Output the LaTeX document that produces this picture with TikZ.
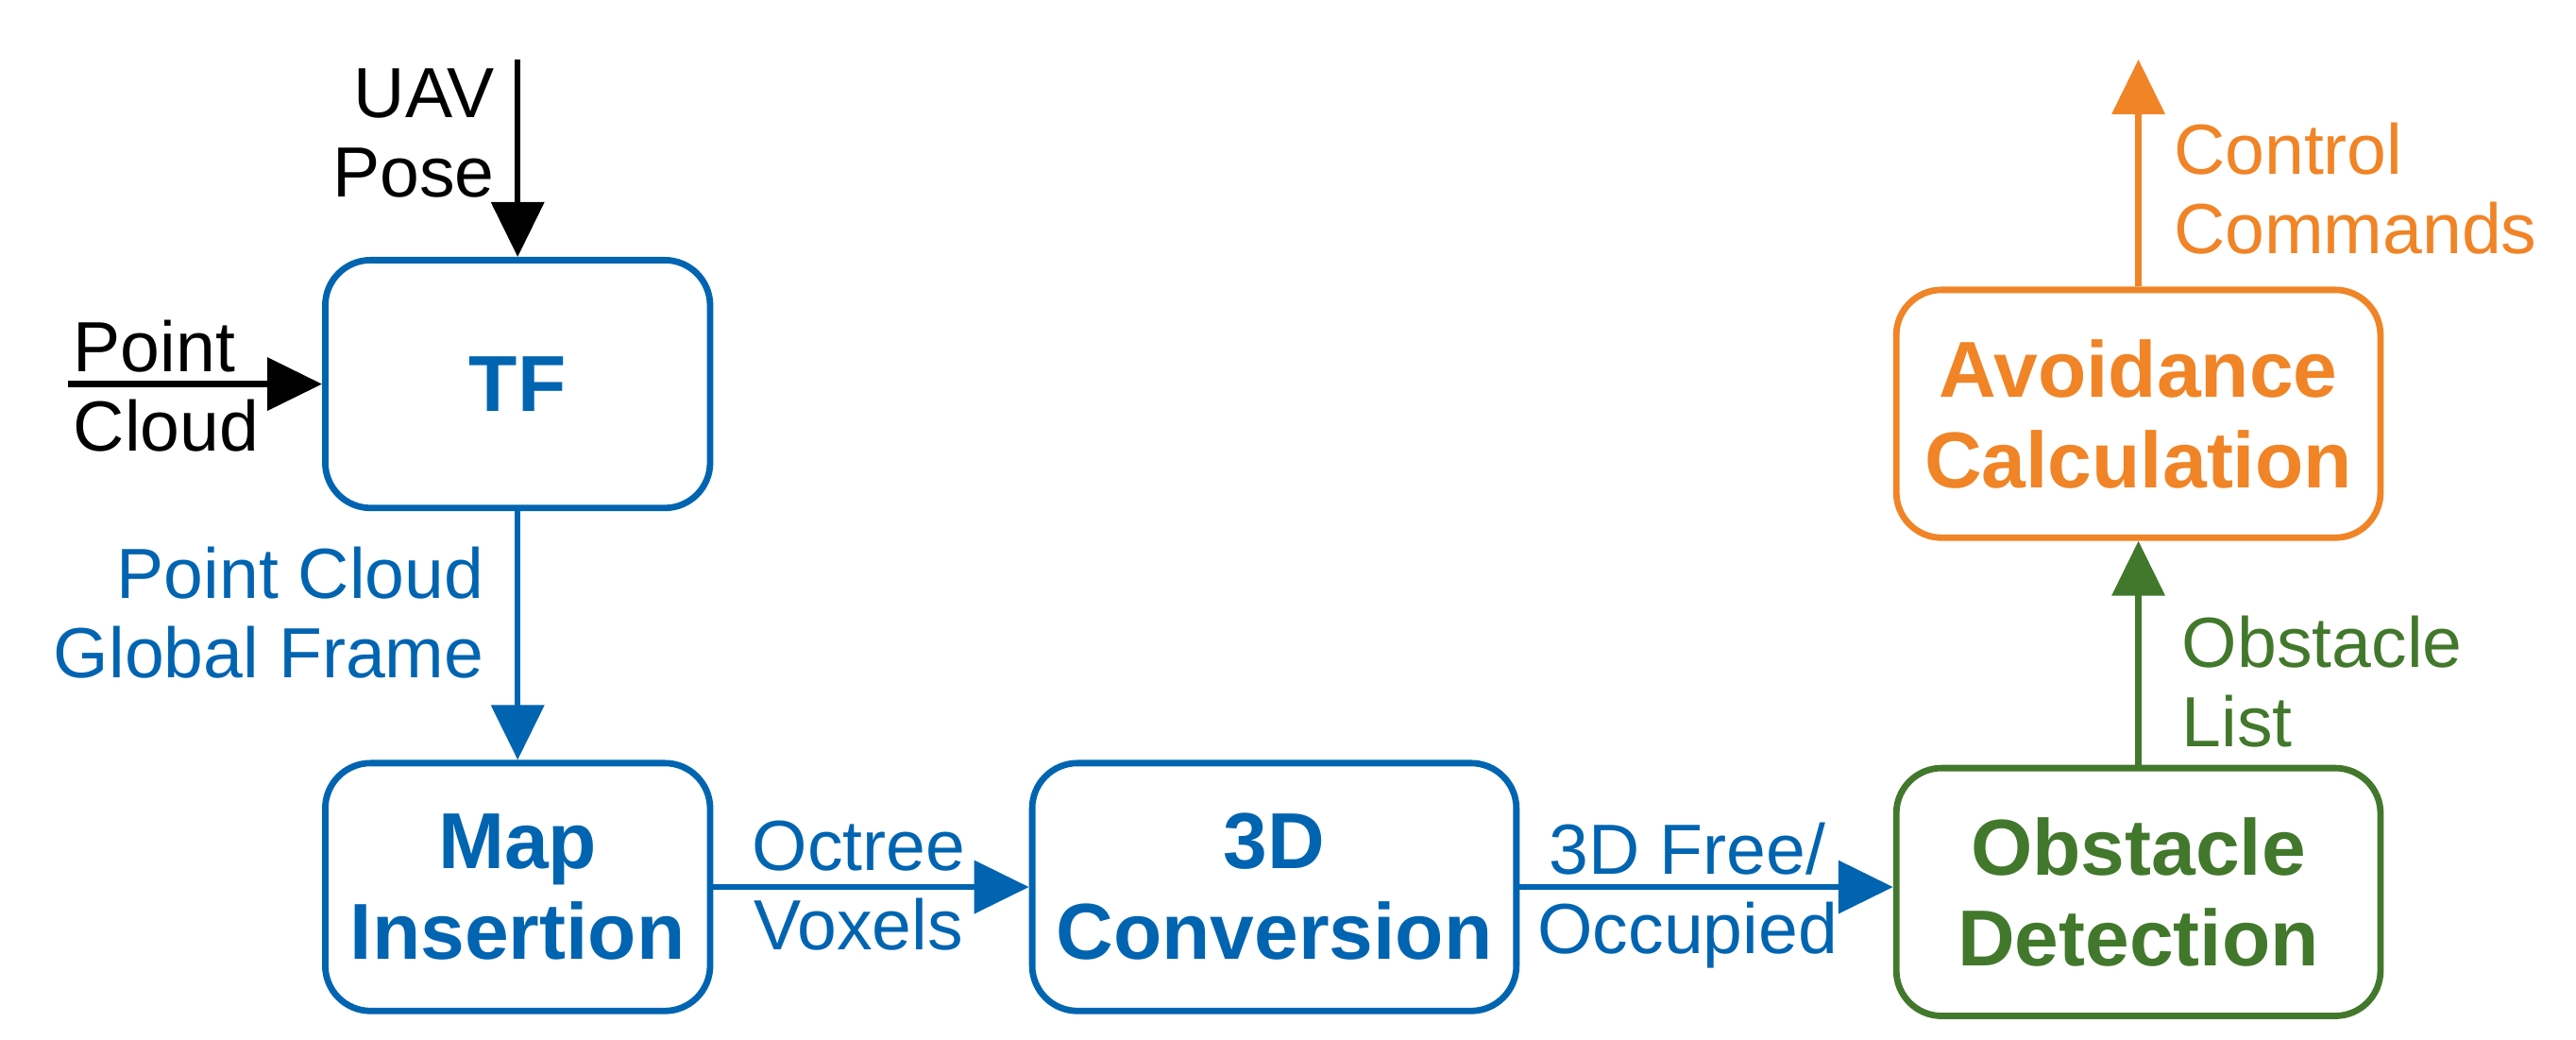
\documentclass[tikz,border=0pt]{standalone}
\usepackage{fontspec}
\setmainfont{Liberation Sans}
\usetikzlibrary{arrows.meta}
\definecolor{cblue}{RGB}{0,100,177}
\definecolor{cgreen}{RGB}{66,120,44}
\definecolor{corange}{RGB}{240,132,38}
\begin{document}
\begin{tikzpicture}[x=0.4372pt, y=-0.4372pt,
  procbox/.style={draw, line width=1.7pt, rounded corners=12pt, align=center,
    font=\fontsize{21}{24}\selectfont\bfseries, inner sep=0pt},
  smallbox/.style={procbox, minimum width=101.9pt, minimum height=65.6pt},
  widebox/.style={procbox, minimum width=128.2pt, minimum height=65.6pt},
  lbl/.style={align=left, font=\fontsize{18.8}{21}\selectfont, inner sep=0pt},
  lblr/.style={align=right, font=\fontsize{18.8}{21}\selectfont, inner sep=0pt},
  lblc/.style={align=center, font=\fontsize{18.8}{21}\selectfont, inner sep=0pt},
  flow/.style={line width=1.6pt, -{Triangle[length=14.5pt, width=13.8pt]}}
]
\useasboundingbox (0,0) rectangle (1560,629.6);

% boxes
\node[smallbox, cblue] (tf) at (313.5,232.5) {TF};
\node[smallbox, cblue] (map) at (313.5,537) {Map\\Insertion};
\node[widebox, cblue] (conv) at (771.7,537) {3D\\Conversion};
\node[widebox, cgreen] (obst) at (1295,540) {Obstacle\\Detection};
\node[widebox, corange] (avoid) at (1295,250.5) {Avoidance\\Calculation};

% free ends
\coordinate (uav) at (313.5,36);
\coordinate (pc) at (41,232.5);
\coordinate (ctrl) at (1295,36);

% connectors
\draw[flow, black] (uav) -- (tf.north);
\draw[flow, black] (pc) -- (tf.west);
\draw[flow, cblue] (tf.south) -- (map.north);
\draw[flow, cblue] (map.east) -- (conv.west);
\draw[flow, cblue] (conv.east) -- (conv.east -| obst.west);
\draw[flow, cgreen] (obst.north) -- (avoid.south);
\draw[flow, corange] (avoid.north) -- (ctrl);

% labels (base anchor = baseline of the last line)
\node[lblr, anchor=base east] (luav) at (300,119) {UAV\\Pose};
\node[lbl, anchor=base west] (lpc) at (44,273) {Point\\Cloud};
\node[lblr, anchor=base east, cblue] (lpcg) at (293.5,410.4) {Point Cloud\\Global Frame};
\node[lblc, anchor=base, cblue] (loct) at (520,575) {Octree\\Voxels};
\node[lblc, anchor=base, cblue] (lfree) at (1022,577) {3D Free/\\Occupied};
\node[lbl, anchor=base west, cgreen] (lobs) at (1321,452) {Obstacle\\List};
\node[lbl, anchor=base west, corange] (lctrl) at (1316,153.4) {Control\\Commands};
\end{tikzpicture}
\end{document}
